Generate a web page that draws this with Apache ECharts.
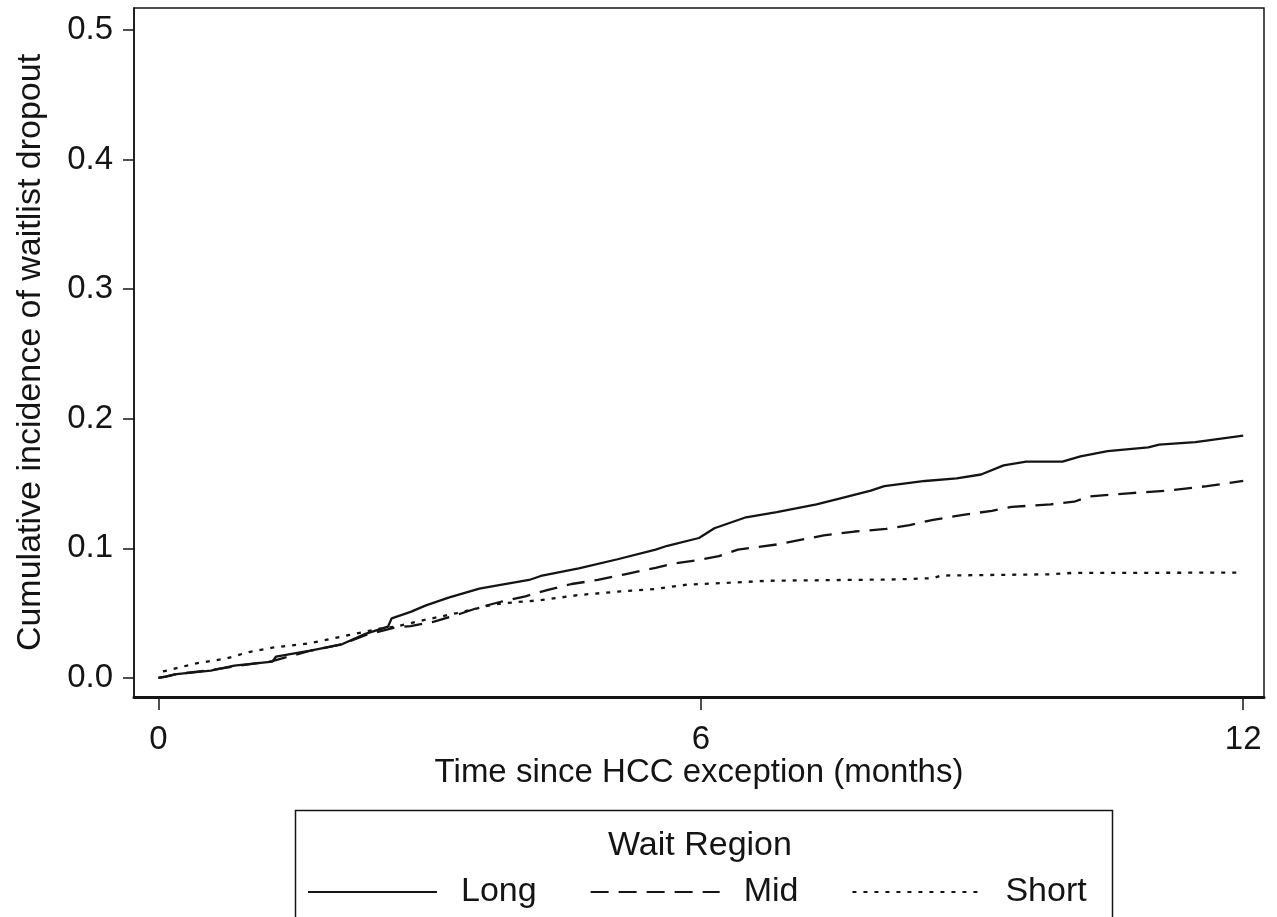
<!DOCTYPE html>
<html>
<head>
<meta charset="utf-8">
<script src="https://cdn.jsdelivr.net/npm/echarts@6/dist/echarts.min.js"></script>
<style>
  html, body { margin: 0; padding: 0; background: #fff; }
  #chart { width: 1277px; height: 917px; }
</style>
</head>
<body>
<div id="chart"></div>
<script>
// ---- data (months, cumulative incidence) ----
const longTime  = [0, 0.08, 0.2, 0.58, 0.84, 1.26, 1.3, 1.68, 2.03, 2.29, 2.54, 2.58, 2.79, 2.96, 3.21, 3.55, 3.8, 4.1, 4.23, 4.65, 5.08, 5.5, 5.63, 5.98, 6.15, 6.5, 6.84, 7.28, 7.62, 7.88, 8.03, 8.48, 8.83, 9.1, 9.35, 9.6, 10.0, 10.2, 10.5, 10.95, 11.07, 11.47, 12];
const longRisk  = [0, 0.001, 0.003, 0.0057, 0.0095, 0.0126, 0.0164, 0.021, 0.026, 0.034, 0.0396, 0.046, 0.051, 0.056, 0.062, 0.069, 0.072, 0.0756, 0.0787, 0.0846, 0.0916, 0.099, 0.102, 0.108, 0.1155, 0.124, 0.128, 0.134, 0.140, 0.1445, 0.148, 0.152, 0.154, 0.157, 0.164, 0.167, 0.167, 0.171, 0.175, 0.178, 0.180, 0.182, 0.187];

const midTime   = [0, 0.08, 0.2, 0.58, 0.84, 1.26, 1.68, 2.03, 2.29, 2.62, 2.79, 3.05, 3.3, 3.55, 3.8, 4.06, 4.31, 4.57, 4.86, 5.16, 5.5, 5.72, 5.98, 6.2, 6.41, 6.84, 7.36, 7.7, 8.05, 8.31, 8.57, 8.92, 9.22, 9.44, 9.87, 10.13, 10.3, 10.73, 11.16, 11.6, 12];
const midRisk   = [0, 0.001, 0.003, 0.006, 0.009, 0.013, 0.021, 0.026, 0.033, 0.039, 0.040, 0.0435, 0.0486, 0.0545, 0.059, 0.063, 0.068, 0.0725, 0.0756, 0.080, 0.085, 0.0885, 0.091, 0.094, 0.099, 0.103, 0.110, 0.113, 0.115, 0.118, 0.122, 0.126, 0.129, 0.132, 0.134, 0.136, 0.140, 0.1425, 0.1445, 0.148, 0.152];

const shortTime = [0.05, 0.42, 0.75, 1.0, 1.26, 1.68, 2.1, 2.45, 2.62, 2.96, 3.3, 3.64, 3.8, 4.23, 4.65, 5.08, 5.5, 5.85, 6.32, 6.75, 8.14, 8.57, 8.66, 9.87, 10.1, 12];
const shortRisk = [0.005, 0.0113, 0.015, 0.020, 0.0234, 0.0268, 0.033, 0.038, 0.0396, 0.045, 0.050, 0.0556, 0.0576, 0.060, 0.064, 0.0666, 0.0687, 0.072, 0.0735, 0.075, 0.076, 0.077, 0.079, 0.080, 0.081, 0.0813];

const groupNames = ['Long', 'Mid', 'Short'];
const xTicks = [0, 6, 12];
const yTicks = [0, 0.1, 0.2, 0.3, 0.4, 0.5];

const FONT = '"Liberation Sans", Arial, sans-serif';
const INK = '#141414';

const pairs = (xs, ys) => xs.map((x, i) => [x, ys[i]]);

const chart = echarts.init(document.getElementById('chart'));

function lineSeries(name, data, type) {
    return {
        name, type: 'line', data,
        symbol: 'none', showSymbol: false, animation: false,
        lineStyle: { color: INK, width: 2.3, type },
        itemStyle: { color: INK }
    };
}

chart.setOption({
    backgroundColor: '#fff',
    animation: false,
    grid: {
        left: 134, right: 13, top: 8, bottom: 220,
        show: true, borderColor: INK, borderWidth: 1.5
    },
    xAxis: {
        type: 'value', min: -0.27, max: 12.23,
        name: 'Time since HCC exception (months)',
        nameLocation: 'middle', nameGap: 59, nameMoveOverlap: false,
        nameTextStyle: { fontFamily: FONT, fontSize: 33, color: INK },
        splitLine: { show: false },
        axisLine: { onZero: false, lineStyle: { color: INK, width: 3 } },
        axisTick: { customValues: xTicks, length: 13, lineStyle: { color: INK, width: 1.5 } },
        axisLabel: {
            customValues: xTicks, margin: 26,
            fontFamily: FONT, fontSize: 33, color: INK
        }
    },
    yAxis: {
        type: 'value', min: -0.0147, max: 0.517,
        name: 'Cumulative incidence of waitlist dropout',
        nameLocation: 'middle', nameGap: 86,
        nameTextStyle: { fontFamily: FONT, fontSize: 34, color: INK },
        splitLine: { show: false },
        axisLine: { show: true, onZero: false, lineStyle: { color: INK, width: 1.5 } },
        axisTick: { show: true, customValues: yTicks, length: 11, lineStyle: { color: INK, width: 1.5 } },
        axisLabel: {
            customValues: yTicks, margin: 21,
            fontFamily: FONT, fontSize: 33, color: INK,
            formatter: v => v.toFixed(1)
        }
    },
    legend: {
        data: groupNames,
        left: 302, top: 870,
        itemWidth: 129, itemHeight: 16, itemGap: 53,
        itemStyle: { color: 'transparent', borderColor: 'transparent', borderWidth: 0 },
        textStyle: { fontFamily: FONT, fontSize: 34, color: INK, padding: [0, 0, 0, 19] },
        selectedMode: false
    },
    graphic: [
        {
            type: 'rect', left: 293, top: 808, silent: true,
            shape: { width: 817, height: 140 },
            style: { fill: 'none', stroke: INK, lineWidth: 1.5 }
        },
        {
            type: 'text', left: 608, top: 829, silent: true,
            style: { text: 'Wait Region', font: '34px ' + FONT, fill: INK }
        }
    ],
    series: [
        lineSeries(groupNames[0], pairs(longTime, longRisk), 'solid'),
        lineSeries(groupNames[1], pairs(midTime, midRisk), [18, 10]),
        lineSeries(groupNames[2], pairs(shortTime, shortRisk), [4, 7])
    ]
});
</script>
</body>
</html>
